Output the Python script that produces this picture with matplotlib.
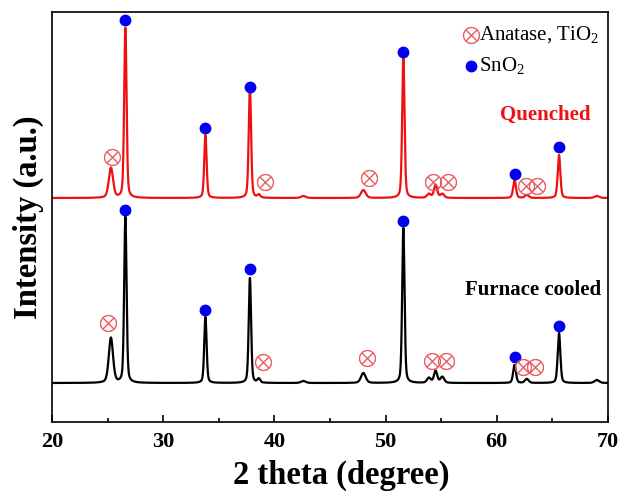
import numpy as np
import matplotlib
matplotlib.use("Agg")
from matplotlib import pyplot as plt

plt.rcParams["font.family"] = ["Liberation Serif", "DejaVu Serif"]
plt.rcParams["mathtext.fontset"] = "custom"
plt.rcParams["mathtext.rm"] = "Liberation Serif"

# ------------------------------------------------------------------------------
#  Data (intensity in arbitrary units)
# ------------------------------------------------------------------------------
peak_pos = [25.3, 26.6, 33.8, 37.8, 38.6, 42.6, 48.0, 51.6, 53.9, 54.5, 55.1,
            61.6, 62.7, 65.6, 69.0]
peak_fwhm = [0.45, 0.25, 0.25, 0.25, 0.3, 0.5, 0.5, 0.25, 0.4, 0.35, 0.4,
             0.3, 0.4, 0.28, 0.5]
height_furnace = [45, 166, 66, 105, 4, 2, 10, 155, 5, 12, 6, 18, 4, 50, 3]
height_quenched = [30, 170, 63, 112, 3, 2, 8, 140, 4, 13, 4, 18, 3, 43, 2]
base_furnace = 39
base_quenched = 224

sno2_pos = [26.6, 33.8, 37.8, 51.6, 61.6, 65.6]
sno2_y_furnace = [212, 112, 153, 201, 65, 96]
sno2_y_quenched = [402, 294, 335, 370, 248, 275]

anatase_pos_furnace = [25.0, 39.0, 48.3, 54.2, 55.4, 62.4, 63.4]
anatase_y_furnace = [99, 60, 64, 61, 61, 55, 55]
anatase_pos_quenched = [25.4, 39.2, 48.5, 54.3, 55.6, 62.6, 63.6]
anatase_y_quenched = [265, 240, 244, 240, 240, 236, 236]

RED = "#ee1111"
MARK_RED = "#e8555a"
BLUE = "#0000ee"
ETA = 0.35  # Lorentzian fraction of the pseudo-Voigt line shape


def pattern(x, heights, base):
    y = np.full(x.shape, float(base))
    for p, w, h in zip(peak_pos, peak_fwhm, heights):
        g = (w / 2) ** 2
        lor = g / ((x - p) ** 2 + g)
        gau = np.exp(-4 * np.log(2) * (x - p) ** 2 / w ** 2)
        y += h * (ETA * lor + (1 - ETA) * gau)
    return y


x = np.linspace(20, 70, 5000)

fig = plt.figure(figsize=(6.21, 4.94), dpi=100)
ax = fig.add_axes([0.0837, 0.1457, 0.8953, 0.83])

ax.plot(x, pattern(x, height_furnace, base_furnace), color="black", lw=1.6)
ax.plot(x, pattern(x, height_quenched, base_quenched), color=RED, lw=1.6)

ax.plot(sno2_pos, sno2_y_furnace, "o", color=BLUE, ms=7.5, ls="none")
ax.plot(sno2_pos, sno2_y_quenched, "o", color=BLUE, ms=7.5, ls="none")
ax.plot(anatase_pos_furnace, anatase_y_furnace, ls="none",
        marker=r"$\otimes$", color=MARK_RED, ms=12, mew=0.4)
ax.plot(anatase_pos_quenched, anatase_y_quenched, ls="none",
        marker=r"$\otimes$", color=MARK_RED, ms=12, mew=0.4)

# legend drawn by hand, no frame
ax.plot([57.7], [387], ls="none", marker=r"$\otimes$", color=MARK_RED,
        ms=12, mew=0.4)
ax.text(58.4, 387, r"Anatase, TiO$_2$", fontsize=15, va="center")
ax.plot([57.7], [356], "o", color=BLUE, ms=7.5)
ax.text(58.4, 356, r"SnO$_2$", fontsize=15, va="center")

ax.text(68.4, 307, "Quenched", color=RED, fontsize=15, fontweight="bold",
        ha="right", va="center")
ax.text(69.4, 132, "Furnace cooled", color="black", fontsize=15,
        fontweight="bold", ha="right", va="center")

ax.set_xlim(20, 70)
ax.set_ylim(0, 410)
ax.set_xticks([20, 30, 40, 50, 60, 70])
ax.set_xticks([25, 35, 45, 55, 65], minor=True)
ax.set_yticks([])
ax.tick_params(axis="x", which="major", direction="in", length=5, width=1.2,
               labelsize=16, pad=7)
ax.tick_params(axis="x", which="minor", direction="in", length=3, width=1.2)
for lab in ax.get_xticklabels():
    lab.set_fontweight("bold")
for sp in ax.spines.values():
    sp.set_linewidth(1.2)

ax.set_xlabel("2 theta (degree)", fontsize=23.5, fontweight="bold")
ax.xaxis.set_label_coords(0.52, -0.093)
ax.set_ylabel("Intensity (a.u.)", fontsize=23.5, fontweight="bold", labelpad=6)

fig.savefig("out.png", dpi=100)
